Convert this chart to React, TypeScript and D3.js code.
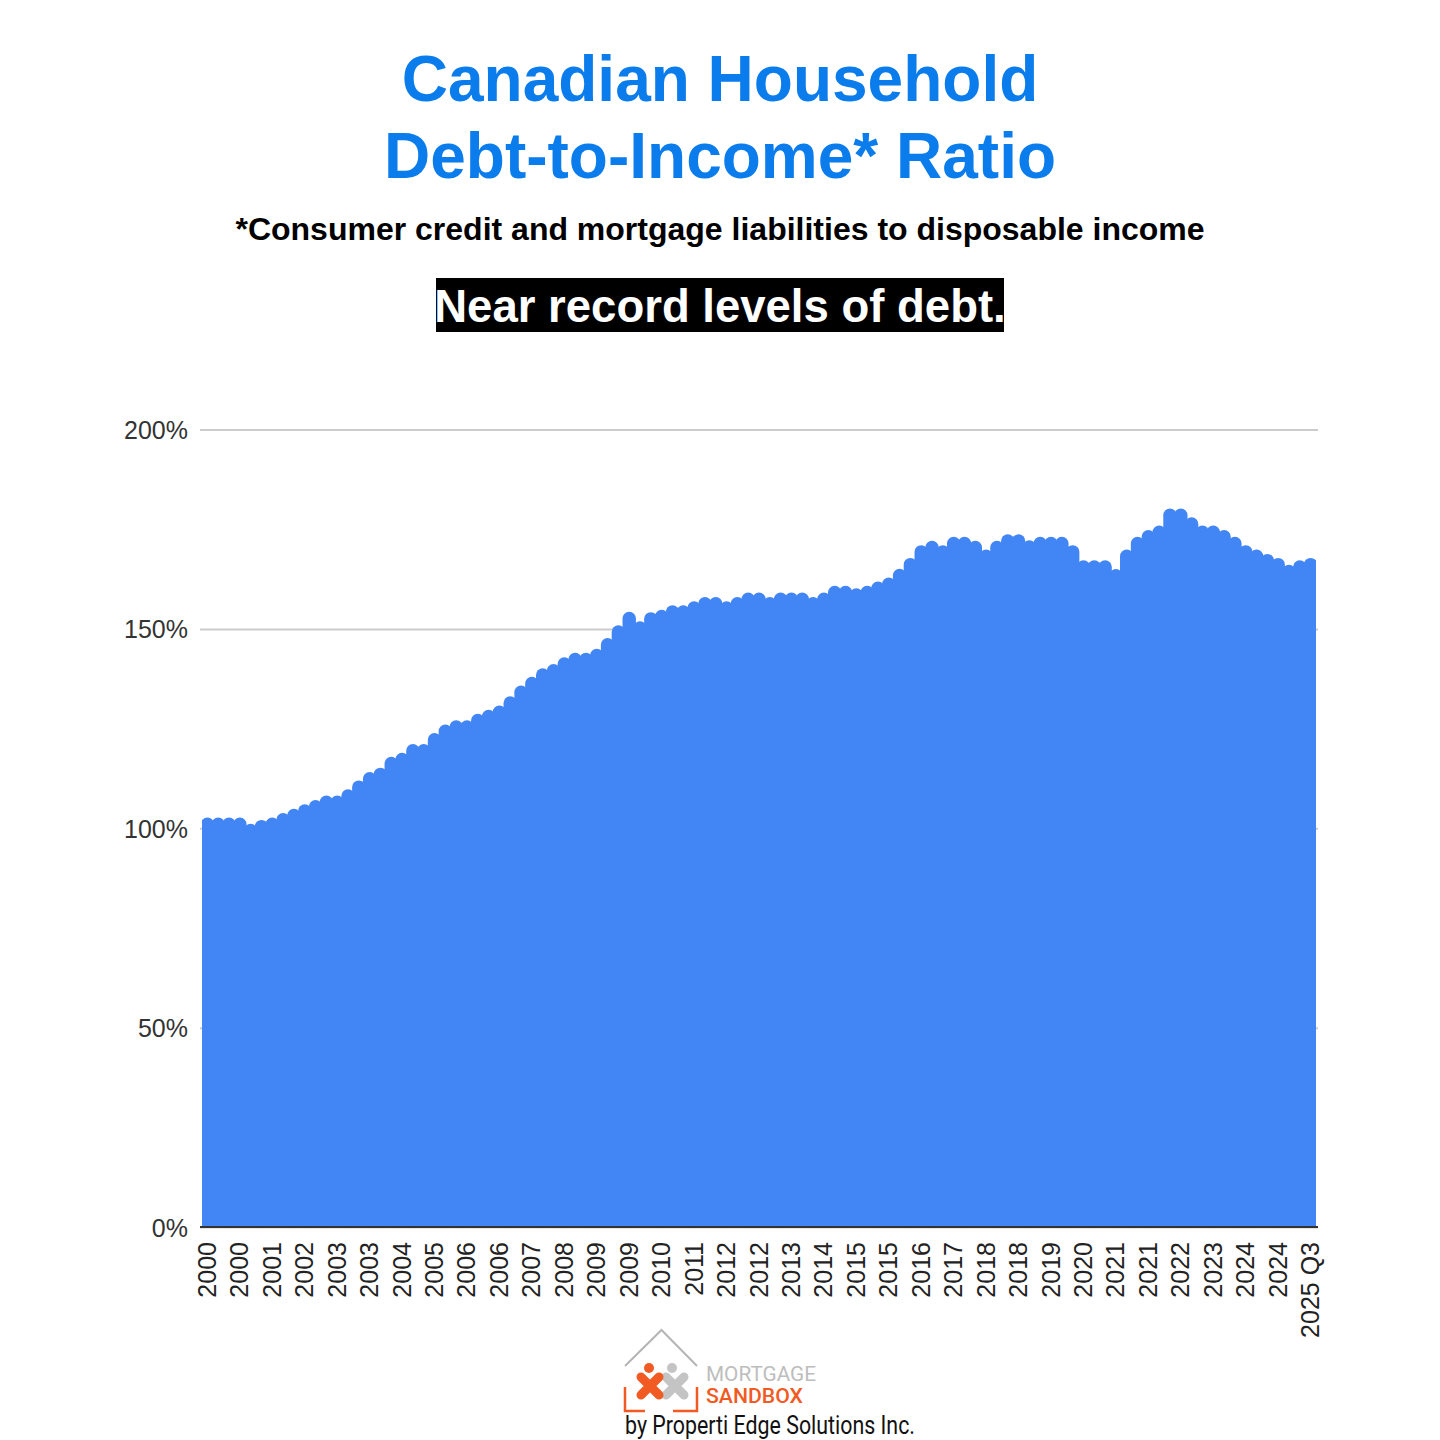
import { useEffect, useRef } from "react"
import * as d3 from "d3"

// Household debt-to-income, quarterly, 2000 Q1 to 2025 Q3
const debtRatio = [
  102.7, 102.7, 102.7, 102.7, 101.1, 102.1, 102.7, 103.8, 104.9, 106.0,
  107.1, 108.2, 108.2, 109.8, 112.0, 114.1, 115.2, 117.9, 118.9, 121.1,
  121.1, 123.9, 126.0, 127.1, 127.1, 128.7, 129.7, 130.8, 133.1, 135.8,
  138.0, 140.1, 141.2, 142.9, 144.0, 144.0, 145.0, 147.7, 150.9, 154.3,
  151.9, 154.2, 154.8, 155.9, 155.9, 156.9, 158.0, 158.0, 156.9, 158.0,
  159.1, 159.1, 158.0, 159.1, 159.1, 159.1, 158.0, 159.1, 160.8, 160.8,
  160.2, 160.8, 161.9, 162.9, 165.1, 167.8, 171.0, 172.1, 171.0, 173.1,
  173.1, 172.1, 169.9, 172.1, 173.7, 173.7, 172.2, 173.1, 173.1, 173.1,
  171.0, 167.2, 167.2, 167.2, 165.0, 169.9, 173.1, 174.8, 175.9, 180.2,
  180.2, 178.0, 175.9, 175.9, 174.8, 173.1, 171.0, 169.9, 168.8, 167.8,
  166.1, 167.2, 167.8,
]

// One label every third quarter
const xTickLabels = [
  "2000", "2000", "2001", "2002", "2003", "2003", "2004", "2005", "2006",
  "2006", "2007", "2008", "2009", "2009", "2010", "2011", "2012", "2012",
  "2013", "2014", "2015", "2015", "2016", "2017", "2018", "2018", "2019",
  "2020", "2021", "2021", "2022", "2023", "2024", "2024", "2025 Q3",
]

const yTicks = [0, 50, 100, 150, 200]

const titleLines = ["Canadian Household", "Debt-to-Income* Ratio"]
const subtitle = "*Consumer credit and mortgage liabilities to disposable income"
const banner = "Near record levels of debt."

const BLUE = "#4285f4"
const ORANGE = "#f15a22"
const LOGO_GREY = "#c4c4c4"
const SANS = "Roboto, sans-serif"
const ARIAL = "'Liberation Sans', Arial, sans-serif"

export default function App() {
  const svgRef = useRef<SVGSVGElement>(null)

  useEffect(() => {
    if (!svgRef.current) return
    const svg = d3.select(svgRef.current)
    svg.selectAll("*").remove()

    const margin = { top: 429.5, right: 124, bottom: 213, left: 202 }
    const plotRight = 1440 - margin.right
    const plotBottom = 1440 - margin.bottom

    const x = d3
      .scaleBand<number>()
      .domain(d3.range(debtRatio.length))
      .range([margin.left, plotRight])
      .padding(0)

    const y = d3.scaleLinear().domain([0, 200]).range([plotBottom, margin.top])

    // Title block
    svg
      .selectAll(".title")
      .data(titleLines)
      .enter()
      .append("text")
      .attr("class", "title")
      .attr("x", 720)
      .attr("y", (_, i) => 101 + i * 77)
      .attr("text-anchor", "middle")
      .style("font-family", ARIAL)
      .style("font-weight", 700)
      .style("font-size", "64px")
      .style("fill", "#0b7cec")
      .text((d) => d)

    svg
      .append("text")
      .attr("x", 720)
      .attr("y", 239.5)
      .attr("text-anchor", "middle")
      .style("font-family", ARIAL)
      .style("font-weight", 700)
      .style("font-size", "32px")
      .style("fill", "#000")
      .text(subtitle)

    svg.append("rect").attr("x", 436).attr("y", 278).attr("width", 568).attr("height", 54).attr("fill", "#000")

    svg
      .append("text")
      .attr("x", 720)
      .attr("y", 322)
      .attr("text-anchor", "middle")
      .style("font-family", ARIAL)
      .style("font-weight", 700)
      .style("font-size", "45.5px")
      .style("fill", "#fff")
      .text(banner)

    // Gridlines and y axis
    const yAxis = svg
      .append("g")
      .attr("transform", `translate(${margin.left - 2},0)`)
      .call(
        d3
          .axisLeft(y)
          .tickValues(yTicks)
          .tickSize(-(plotRight - margin.left + 4))
          .tickPadding(12)
          .tickFormat((d) => `${d}%`),
      )
    yAxis.select(".domain").remove()
    yAxis.selectAll("line").attr("stroke", "#cccccc").attr("stroke-width", 2)
    yAxis
      .selectAll("text")
      .attr("dy", "0.36em")
      .style("font-family", ARIAL)
      .style("font-size", "25px")
      .style("fill", "#333")

    // Bars with round tops, wider than the band so the bumps run together
    const overlap = 1.3
    const barPath = (d: number, i: number) => {
      const x0 = (x(i) as number) - overlap
      const x1 = (x(i) as number) + x.bandwidth() + overlap
      const r = (x1 - x0) / 2
      const top = y(d)
      const p = d3.path()
      p.moveTo(x0, plotBottom)
      p.lineTo(x0, top + r)
      p.arc(x0 + r, top + r, r, Math.PI, 0)
      p.lineTo(x1, plotBottom)
      p.closePath()
      return p.toString()
    }

    svg
      .append("clipPath")
      .attr("id", "plot-clip")
      .append("rect")
      .attr("x", margin.left)
      .attr("y", 0)
      .attr("width", plotRight - margin.left)
      .attr("height", plotBottom)

    svg
      .append("g")
      .attr("clip-path", "url(#plot-clip)")
      .selectAll("path")
      .data(debtRatio)
      .enter()
      .append("path")
      .attr("d", barPath)
      .attr("fill", BLUE)

    // Baseline
    svg
      .append("line")
      .attr("x1", margin.left - 2)
      .attr("x2", plotRight + 2)
      .attr("y1", plotBottom)
      .attr("y2", plotBottom)
      .attr("stroke", "#333")
      .attr("stroke-width", 2)

    // X tick labels, rotated
    svg
      .append("g")
      .selectAll("text")
      .data(xTickLabels)
      .enter()
      .append("text")
      .attr("transform", (_, i) => {
        const cx = (x(i * 3) as number) + x.bandwidth() / 2 - 0.5
        return `translate(${cx},${plotBottom + 15}) rotate(-90)`
      })
      .attr("dy", "0.36em")
      .attr("text-anchor", "end")
      .style("font-family", ARIAL)
      .style("font-size", "25px")
      .style("fill", "#222")
      .text((d) => d)

    // Logo
    const logo = svg.append("g").attr("fill", "none")
    logo
      .append("path")
      .attr("d", d3.line()([[625, 1366], [661.5, 1330], [697, 1366]]))
      .attr("stroke", "#b5b5b5")
      .attr("stroke-width", 2)
    logo
      .append("path")
      .attr("d", "M666,1377L684,1395M684,1377L666,1395")
      .attr("stroke", LOGO_GREY)
      .attr("stroke-width", 9)
      .attr("stroke-linecap", "round")
    logo.append("circle").attr("cx", 672).attr("cy", 1368).attr("r", 5).attr("fill", LOGO_GREY)
    logo
      .append("path")
      .attr("d", "M641,1377L659,1395M659,1377L641,1395")
      .attr("stroke", ORANGE)
      .attr("stroke-width", 9)
      .attr("stroke-linecap", "round")
    logo.append("circle").attr("cx", 649).attr("cy", 1368).attr("r", 5).attr("fill", ORANGE)
    logo
      .append("path")
      .attr("d", "M625,1387V1411H645M673,1411H697V1387")
      .attr("stroke", ORANGE)
      .attr("stroke-width", 2.5)

    const logoText = [
      { label: "MORTGAGE", x: 706, y: 1381, len: 110, size: 20, weight: 400, color: "#bdbdbd" },
      { label: "SANDBOX", x: 706, y: 1403, len: 97, size: 20, weight: 500, color: ORANGE },
      { label: "by Properti Edge Solutions Inc.", x: 625, y: 1433.5, len: 290, size: 25, weight: 400, color: "#111" },
    ]
    svg
      .append("g")
      .selectAll("text")
      .data(logoText)
      .enter()
      .append("text")
      .attr("x", (d) => d.x)
      .attr("y", (d) => d.y)
      .attr("textLength", (d) => d.len)
      .attr("lengthAdjust", "spacingAndGlyphs")
      .style("font-family", SANS)
      .style("font-size", (d) => `${d.size}px`)
      .style("font-weight", (d) => d.weight)
      .style("fill", (d) => d.color)
      .text((d) => d.label)
  }, [])

  return (
    <svg
      ref={svgRef}
      width={1440}
      height={1440}
      style={{ position: "absolute", left: 0, top: 0, background: "#fff" }}
    ></svg>
  )
}
